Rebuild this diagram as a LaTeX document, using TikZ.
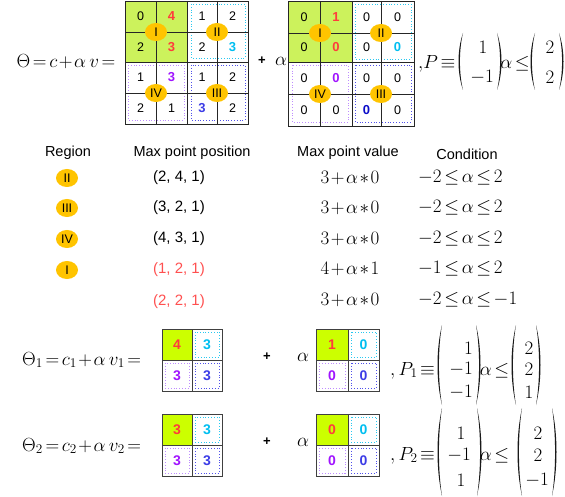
\RequirePackage{fix-cm}
\documentclass[tikz,border=0pt]{standalone}
\usepackage{amsmath}
\usepackage[no-math]{fontspec}
\newfontfamily\lsans{Liberation Sans}
\usetikzlibrary{shapes.geometric}
\definecolor{gtop}{RGB}{204,242,92}
\definecolor{gbot}{RGB}{204,255,0}
\definecolor{cred}{RGB}{255,60,60}
\definecolor{ccyan}{RGB}{0,190,240}
\definecolor{cpurp}{RGB}{160,20,255}
\definecolor{cblue}{RGB}{60,60,230}
\definecolor{cnavy}{RGB}{10,10,200}
\definecolor{cyel}{RGB}{255,196,0}
\definecolor{dviol}{RGB}{190,140,255}
\definecolor{dcyan}{RGB}{40,200,240}
\definecolor{dblue}{RGB}{80,80,235}
\definecolor{tred}{RGB}{255,80,80}
\newcommand{\tightmath}{\thickmuskip=2.5mu\medmuskip=1.5mu}
% thin tall parentheses: #1 = outermost x, #2 = top y, #3 = bottom y
\newcommand{\myLP}[3]{\fill[black!90] ({#1+5},#2) .. controls ({#1-1},{#2+0.3*(#3-#2)}) and ({#1-1},{#3-0.3*(#3-#2)}) .. ({#1+5},#3) .. controls ({#1+0.9},{#3-0.3*(#3-#2)}) and ({#1+0.9},{#2+0.3*(#3-#2)}) .. ({#1+5},#2) -- cycle;}
\newcommand{\myRP}[3]{\fill[black!90] ({#1-5},#2) .. controls ({#1+1},{#2+0.3*(#3-#2)}) and ({#1+1},{#3-0.3*(#3-#2)}) .. ({#1-5},#3) .. controls ({#1-0.9},{#3-0.3*(#3-#2)}) and ({#1-0.9},{#2+0.3*(#3-#2)}) .. ({#1-5},#2) -- cycle;}
\tikzset{
  gridline/.style={draw=black!85, line width=0.8pt},
  sgridline/.style={draw=black!75, line width=0.9pt},
  dig/.style={inner sep=0, font=\lsans\fontsize{12.5}{14}\selectfont},
  bdig/.style={inner sep=0, font=\lsans\bfseries\fontsize{13}{15}\selectfont},
  sdig/.style={inner sep=0, font=\lsans\bfseries\fontsize{14}{16}\selectfont},
  reg/.style={ellipse, fill=cyel, minimum width=22pt, minimum height=18pt, inner sep=0, font=\lsans\fontsize{12.5}{14}\selectfont},
  dotbox/.style={dotted, line width=0.8pt},
  mth/.style={inner sep=0, font=\fontsize{19}{22}\selectfont\tightmath},
  hdr/.style={inner sep=0, font=\lsans\fontsize{14.5}{17}\selectfont},
  ptxt/.style={inner sep=0, font=\lsans\fontsize{15}{18}\selectfont},
  plustxt/.style={inner sep=0, font=\lsans\bfseries\fontsize{13}{15}\selectfont},
}
\begin{document}
\begin{tikzpicture}[x=1pt,y=-1pt]
\useasboundingbox (0,0) rectangle (565,497);

% ---------- top line ----------
\node[mth] (theta) at (66,62) {$\Theta=c+\alpha\,v=$};

% grid 1
\fill[gtop] (125,1) rectangle (187,62);
\draw[dotbox, dcyan] (191,4) rectangle (245,58);
\draw[dotbox, dviol] (128,65) rectangle (184,120);
\draw[dotbox, dblue] (191,65) rectangle (245,120);
\draw[gridline] (125,1) rectangle (248,124);
\draw[gridline] (156,1) -- (156,124) (187,1) -- (187,124) (217,1) -- (217,124);
\draw[gridline] (125,32) -- (248,32) (125,62) -- (248,62) (125,93) -- (248,93);
\node[dig] (a11) at (140.5,16.5) {0};
\node[bdig, text=cred] (a12) at (171.5,16.5) {4};
\node[dig] (a13) at (202,16.5) {1};
\node[dig] (a14) at (232.5,16.5) {2};
\node[dig] (a21) at (140.5,47) {2};
\node[bdig, text=cred] (a22) at (171.5,47) {3};
\node[dig] (a23) at (202,47) {2};
\node[bdig, text=ccyan] (a24) at (232.5,47) {3};
\node[dig] (a31) at (140.5,77.5) {1};
\node[bdig, text=cpurp] (a32) at (171.5,77.5) {3};
\node[dig] (a33) at (202,77.5) {1};
\node[dig] (a34) at (232.5,77.5) {2};
\node[dig] (a41) at (140.5,108.5) {2};
\node[dig] (a42) at (171.5,108.5) {1};
\node[bdig, text=cblue] (a43) at (202,108.5) {3};
\node[dig] (a44) at (232.5,108.5) {2};
\node[reg] (aI) at (156,32) {I};
\node[reg] (aII) at (217,32) {II};
\node[reg] (aIV) at (156,93) {IV};
\node[reg] (aIII) at (217,93) {III};

\node[plustxt] (plus0) at (262,61) {+};
\node[mth] (alpha0) at (281,61) {$\alpha$};

% grid 2
\fill[gtop] (288,1) rectangle (352,62);
\draw[dotbox, dcyan] (355,4) rectangle (411,59);
\draw[dotbox, dviol] (292,65) rectangle (348,122);
\draw[dotbox, dblue] (355,65) rectangle (411,122);
\draw[gridline] (288,1) rectangle (414,126);
\draw[gridline] (320,1) -- (320,126) (352,1) -- (352,126) (381,1) -- (381,126);
\draw[gridline] (288,33) -- (414,33) (288,62) -- (414,62) (288,94) -- (414,94);
\node[dig] (b11) at (304,17) {0};
\node[bdig, text=cred] (b12) at (336,17) {1};
\node[dig] (b13) at (366.5,17) {0};
\node[dig] (b14) at (397.5,17) {0};
\node[dig] (b21) at (304,47.5) {0};
\node[bdig, text=cred] (b22) at (336,47.5) {0};
\node[dig] (b23) at (366.5,47.5) {0};
\node[bdig, text=ccyan] (b24) at (397.5,47.5) {0};
\node[dig] (b31) at (304,78) {0};
\node[bdig, text=cpurp] (b32) at (336,78) {0};
\node[dig] (b33) at (366.5,78) {0};
\node[dig] (b34) at (397.5,78) {0};
\node[dig] (b41) at (304,110) {0};
\node[dig] (b42) at (336,110) {0};
\node[bdig, text=cnavy] (b43) at (366.5,110) {0};
\node[dig] (b44) at (397.5,110) {0};
\node[reg] (bI) at (320,33) {I};
\node[reg] (bII) at (381,33) {II};
\node[reg] (bIV) at (320,94) {IV};
\node[reg] (bIII) at (381,94) {III};

% P
\node[mth, anchor=base west] (P0) at (418,69) {$\mathord{,}P\equiv$};
\myLP{458}{33}{90}
\node[mth] (P0a) at (483,47) {$1$};
\node[mth] (P0b) at (482,77) {$-1$};
\myRP{502}{33}{90}
\node[mth, anchor=base] (P0r) at (515,69) {$\alpha\leq$};
\myLP{530}{33}{90}
\node[mth] (P0c) at (550,47) {$2$};
\node[mth] (P0d) at (550,77) {$2$};
\myRP{564}{33}{90}

% ---------- table ----------
\node[hdr] (h1) at (68,153) {Region};
\node[hdr] (h2) at (192,153) {Max point position};
\node[hdr] (h3) at (348,153) {Max point value};
\node[hdr] (h4) at (467,154) {Condition};

\node[reg] (r1) at (67,178) {II};
\node[reg] (r2) at (67,208) {III};
\node[reg] (r3) at (67,239) {IV};
\node[reg] (r4) at (67,270) {I};

\node[ptxt] (p1) at (179,178) {(2, 4, 1)};
\node[ptxt] (p2) at (179,208) {(3, 2, 1)};
\node[ptxt] (p3) at (179,239) {(4, 3, 1)};
\node[ptxt, text=tred] (p4) at (179,270) {(1, 2, 1)};
\node[ptxt, text=tred] (p5) at (179,302) {(2, 2, 1)};

\node[mth] (v1) at (350,178) {$3+\alpha*0$};
\node[mth] (v2) at (350,208) {$3+\alpha*0$};
\node[mth] (v3) at (350,239) {$3+\alpha*0$};
\node[mth] (v4) at (350,269) {$4+\alpha*1$};
\node[mth] (v5) at (350,300) {$3+\alpha*0$};

\node[mth, anchor=west] (c1) at (418,178) {$-2\leq\alpha\leq2$};
\node[mth, anchor=west] (c2) at (418,208) {$-2\leq\alpha\leq2$};
\node[mth, anchor=west] (c3) at (418,239) {$-2\leq\alpha\leq2$};
\node[mth, anchor=west] (c4) at (418,269) {$-1\leq\alpha\leq2$};
\node[mth, anchor=west] (c5) at (418,300) {$-2\leq\alpha\leq-1$};

% ---------- row 1 ----------
\node[mth, anchor=west] (theta1) at (22,360) {$\Theta_1=c_1+\alpha\,v_1=$};
\fill[gbot] (162,329) rectangle (192,360);
\draw[dotbox, dcyan] (195,332) rectangle (219,357);
\draw[dotbox, dviol] (165,363) rectangle (189,388);
\draw[dotbox, dblue] (195,363) rectangle (219,388);
\draw[sgridline] (162,329) rectangle (222,391);
\draw[sgridline] (192,329) -- (192,391) (162,360) -- (222,360);
\node[sdig, text=cred] (c1a) at (177,344.5) {4};
\node[sdig, text=ccyan] (c1b) at (207,344.5) {3};
\node[sdig, text=cpurp] (c1c) at (177,375.5) {3};
\node[sdig, text=cblue] (c1d) at (207,375.5) {3};
\node[plustxt] (plus1) at (267,357) {+};
\node[mth] (alpha1) at (303,357) {$\alpha$};
\fill[gbot] (316,329) rectangle (348,360);
\draw[dotbox, dcyan] (351,332) rectangle (376,357);
\draw[dotbox, dviol] (319,363) rectangle (345,388);
\draw[dotbox, dblue] (351,363) rectangle (376,388);
\draw[sgridline] (316,329) rectangle (379,391);
\draw[sgridline] (348,329) -- (348,391) (316,360) -- (379,360);
\node[sdig, text=cred] (v1a) at (332,344.5) {1};
\node[sdig, text=ccyan] (v1b) at (363.5,344.5) {0};
\node[sdig, text=cpurp] (v1c) at (332,375.5) {0};
\node[sdig, text=cblue] (v1d) at (363.5,375.5) {0};

\node[mth, anchor=base west] (P1) at (390,375) {$,P_1\equiv$};
\myLP{437}{325}{405}
\node[mth, anchor=east] (P1a) at (473,348) {$1$};
\node[mth, anchor=east] (P1b) at (473,369) {$-1$};
\node[mth, anchor=east] (P1c) at (473,392) {$-1$};
\myRP{481}{325}{405}
\node[mth, anchor=base] (P1r) at (494.5,375) {$\alpha\leq$};
\myLP{511}{325}{405}
\node[mth] (P1d) at (529,348) {$2$};
\node[mth] (P1e) at (529,369) {$2$};
\node[mth] (P1f) at (529,392) {$1$};
\myRP{541}{325}{405}

% ---------- row 2 ----------
\node[mth, anchor=west] (theta2) at (22,446) {$\Theta_2=c_2+\alpha\,v_2=$};
\fill[gbot] (162,414) rectangle (192,445);
\draw[dotbox, dcyan] (195,417) rectangle (219,442);
\draw[dotbox, dviol] (165,448) rectangle (189,473);
\draw[dotbox, dblue] (195,448) rectangle (219,473);
\draw[sgridline] (162,414) rectangle (222,476);
\draw[sgridline] (192,414) -- (192,476) (162,445) -- (222,445);
\node[sdig, text=cred] (c2a) at (177,429.5) {3};
\node[sdig, text=ccyan] (c2b) at (207,429.5) {3};
\node[sdig, text=cpurp] (c2c) at (177,460.5) {3};
\node[sdig, text=cblue] (c2d) at (207,460.5) {3};
\node[plustxt] (plus2) at (267,442) {+};
\node[mth] (alpha2) at (303,442) {$\alpha$};
\fill[gbot] (316,414) rectangle (348,445);
\draw[dotbox, dcyan] (351,417) rectangle (376,442);
\draw[dotbox, dviol] (319,448) rectangle (345,473);
\draw[dotbox, dblue] (351,448) rectangle (376,473);
\draw[sgridline] (316,414) rectangle (379,476);
\draw[sgridline] (348,414) -- (348,476) (316,445) -- (379,445);
\node[sdig, text=cred] (v2a) at (332,429.5) {0};
\node[sdig, text=ccyan] (v2b) at (363.5,429.5) {0};
\node[sdig, text=cpurp] (v2c) at (332,460.5) {0};
\node[sdig, text=cblue] (v2d) at (363.5,460.5) {0};

\node[mth, anchor=base west] (P2) at (390,460) {$,P_2\equiv$};
\myLP{437}{408}{496}
\node[mth] (P2a) at (461,433) {$1$};
\node[mth] (P2b) at (459,455) {$-1$};
\node[mth] (P2c) at (461,480) {$1$};
\myRP{482}{408}{496}
\node[mth, anchor=base] (P2r) at (494.5,460) {$\alpha\leq$};
\myLP{517}{408}{496}
\node[mth] (P2d) at (538,433) {$2$};
\node[mth] (P2e) at (538,455) {$2$};
\node[mth] (P2f) at (537,480) {$-1$};
\myRP{557}{408}{496}
\end{tikzpicture}
\end{document}
